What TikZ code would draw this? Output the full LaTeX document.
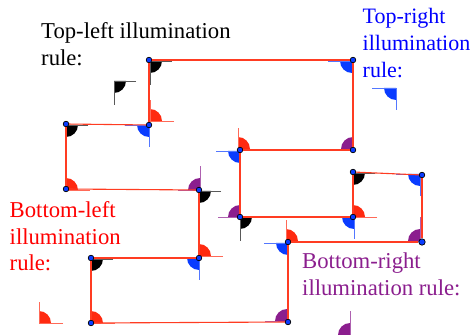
\documentclass[tikz,border=0pt]{standalone}
\usepackage{fontspec}
\setmainfont{Liberation Serif}
\usepackage{xcolor}
\definecolor{rulered}{HTML}{FF2A10}
\definecolor{ruleblue}{HTML}{0A3CFF}
\definecolor{rulepurple}{HTML}{8B1E8E}
\definecolor{edgered}{HTML}{FF3C22}
\usetikzlibrary{positioning}

\begin{document}
\begin{tikzpicture}[x=1pt, y=1pt,
  corner/.style={circle, draw=black, fill=ruleblue, line width=0.7pt, inner sep=0pt, minimum size=5.6pt},
  edge/.style={draw=edgered, line width=1.1pt},
  rule/.style={font=\fontsize{22.7}{26.9}\selectfont, align=left, anchor=north west, inner sep=0pt},
  tlmark/.pic={\fill[black] (0,0) -- (12,0) arc[start angle=0, end angle=-90, radius=12] -- cycle;
    \draw[black!65, line width=0.8pt] (22,0) -- (0,0) -- (0,-24);},
  trmark/.pic={\fill[ruleblue] (0,0) -- (-12,0) arc[start angle=180, end angle=270, radius=12] -- cycle;
    \draw[ruleblue!70, line width=0.8pt] (-24,0) -- (0,0) -- (0,-22);},
  blmark/.pic={\fill[rulered] (0,0) -- (12,0) arc[start angle=0, end angle=90, radius=12] -- cycle;
    \draw[rulered!70, line width=0.8pt] (24,0) -- (0,0) -- (0,21);},
  brmark/.pic={\fill[rulepurple] (0,0) -- (-12,0) arc[start angle=180, end angle=90, radius=12] -- cycle;
    \draw[rulepurple!70, line width=0.8pt] (-22,0) -- (0,0) -- (0,24);}]
\useasboundingbox (0,0) rectangle (472,335);
% free-standing samples next to the labels
\pic at (114,254) {tlmark};
\pic at (396,247) {trmark};
\pic at (39,12) {blmark};
\pic at (350,0) {brmark};
% marks on the outline
\pic at (150,274) {tlmark};
\pic at (66,210) {tlmark};
\pic at (199,144) {tlmark};
\pic at (91,76) {tlmark};
\pic at (240,118) {tlmark};
\pic at (353,162) {tlmark};
\pic at (352,274) {trmark};
\pic at (149,210) {trmark};
\pic at (240,184) {trmark};
\pic at (199,77) {trmark};
\pic at (354,118) {trmark};
\pic at (288,92) {trmark};
\pic at (420,161) {trmark};
\pic at (150,214) {blmark};
\pic at (66,145) {blmark};
\pic at (199,79) {blmark};
\pic at (91,12) {blmark};
\pic at (238,186) {blmark};
\pic at (353,118) {blmark};
\pic at (286,94) {blmark};
\pic at (353,186) {brmark};
\pic at (200,145) {brmark};
\pic at (240,118) {brmark};
\pic at (420,94) {brmark};
\pic at (287,14) {brmark};
% vertices of the outline
\node[corner] (vtl) at (149,275) {};
\node[corner] (vtr) at (353,275) {};
\node[corner] (vbr) at (353,185) {};
\node[corner] (vna) at (240,185) {};
\node[corner] (vnb) at (240,118) {};
\node[corner] (vnc) at (353,118) {};
\node[corner] (vpa) at (353,163) {};
\node[corner] (vpb) at (422,160) {};
\node[corner, minimum size=6.4pt] (vpc) at (422,93) {};
\node[corner] (vpd) at (288,93) {};
\node[corner] (vpe) at (288,13) {};
\node[corner] (vla) at (91,12) {};
\node[corner] (vlb) at (91,77) {};
\node[corner] (vlc) at (199,77) {};
\node[corner] (vld) at (199,145) {};
\node[corner] (vle) at (66,146) {};
\node[corner] (vlf) at (66,211) {};
\node[corner] (vlg) at (149,210) {};
\draw[edge] (vtl)--(vtr); \draw[edge] (vtr)--(vbr); \draw[edge] (vbr)--(vna);
\draw[edge] (vna)--(vnb); \draw[edge] (vnb)--(vnc); \draw[edge] (vnc)--(vpa);
\draw[edge] (vpa)--(vpb); \draw[edge] (vpb)--(vpc); \draw[edge] (vpc)--(vpd);
\draw[edge] (vpd)--(vpe); \draw[edge] (vpe)--(vla); \draw[edge] (vla)--(vlb);
\draw[edge] (vlb)--(vlc); \draw[edge] (vlc)--(vld); \draw[edge] (vld)--(vle);
\draw[edge] (vle)--(vlf); \draw[edge] (vlf)--(vlg); \draw[edge] (vlg)--(vtl);
% labels
\node[rule, text=black] (ruletl) at (41,313) {Top-left illumination\\rule:};
\node[rule, text=blue, font=\fontsize{22}{26.9}\selectfont] (ruletr) at (362.5,327) {Top-right\\illumination\\rule:};
\node[rule, text=red] (rulebl) at (9.5,134) {Bottom-left\\illumination\\rule:};
\node[rule, text=rulepurple] (rulebr) at (302,82) {Bottom-right\\illumination rule:};
\end{tikzpicture}
\end{document}
